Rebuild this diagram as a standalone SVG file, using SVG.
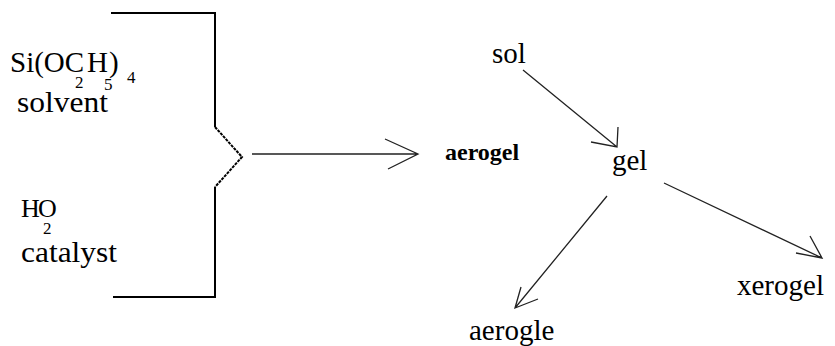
<svg xmlns="http://www.w3.org/2000/svg" width="835" height="346" viewBox="0 0 835 346">
<style>
.t{font-size:29px;fill:#000}
.h{font-size:26px;fill:#000}
.s{font-size:17px;fill:#000}
.b{font-size:24px;font-weight:bold;fill:#000}
.br{fill:none;stroke:#000;stroke-width:2}
.ar{fill:none;stroke:#222;stroke-width:1.3}
</style>
<rect width="835" height="346" fill="#fff"/>
<g font-family="Liberation Serif, Times New Roman, serif">
<g id="reactant1">
<text class="t" x="10" y="72">Si(OC</text>
<text class="s" x="75" y="88">2</text>
<text class="t" x="87" y="72">H</text>
<text class="s" x="104" y="90">5</text>
<text class="t" x="109" y="72">)</text>
<text class="s" x="127" y="83">4</text>
<text class="t" x="17" y="112" textLength="91" lengthAdjust="spacingAndGlyphs">solvent</text>
</g>
<g id="reactant2">
<text class="h" x="21" y="217">H</text>
<text class="s" x="43" y="234">2</text>
<text class="h" x="38" y="217">O</text>
<text class="t" x="21" y="262" textLength="96" lengthAdjust="spacingAndGlyphs">catalyst</text>
</g>
<g id="product">
<text class="b" x="445" y="160">aerogel</text>
</g>
<g id="sol"><text class="t" x="492" y="63">sol</text></g>
<g id="gel"><text class="t" x="612" y="170">gel</text></g>
<g id="aerogle"><text class="t" x="469" y="340">aerogle</text></g>
<g id="xerogel"><text class="t" x="737" y="295">xerogel</text></g>
</g>
<g id="bracket">
<path class="br" d="M111,13 H215 V127 M215,187 V297 H113"/>
<path class="br" d="M215,127 L242,157 L215,187" stroke-dasharray="3,1" stroke-width="1.5"/>
</g>
<g id="connectors">
<path class="ar" d="M252,154 H418 M385,139 L418,154 L388,169"/>
<path class="ar" d="M523,70 L617,147 M618,127 L617,147 L591,142"/>
<path class="ar" d="M607,196 L515,308 M521,287 L515,308 L538,299"/>
<path class="ar" d="M664,183 L822,258 M810,236 L822,258 L796,253"/>
</g>
</svg>
